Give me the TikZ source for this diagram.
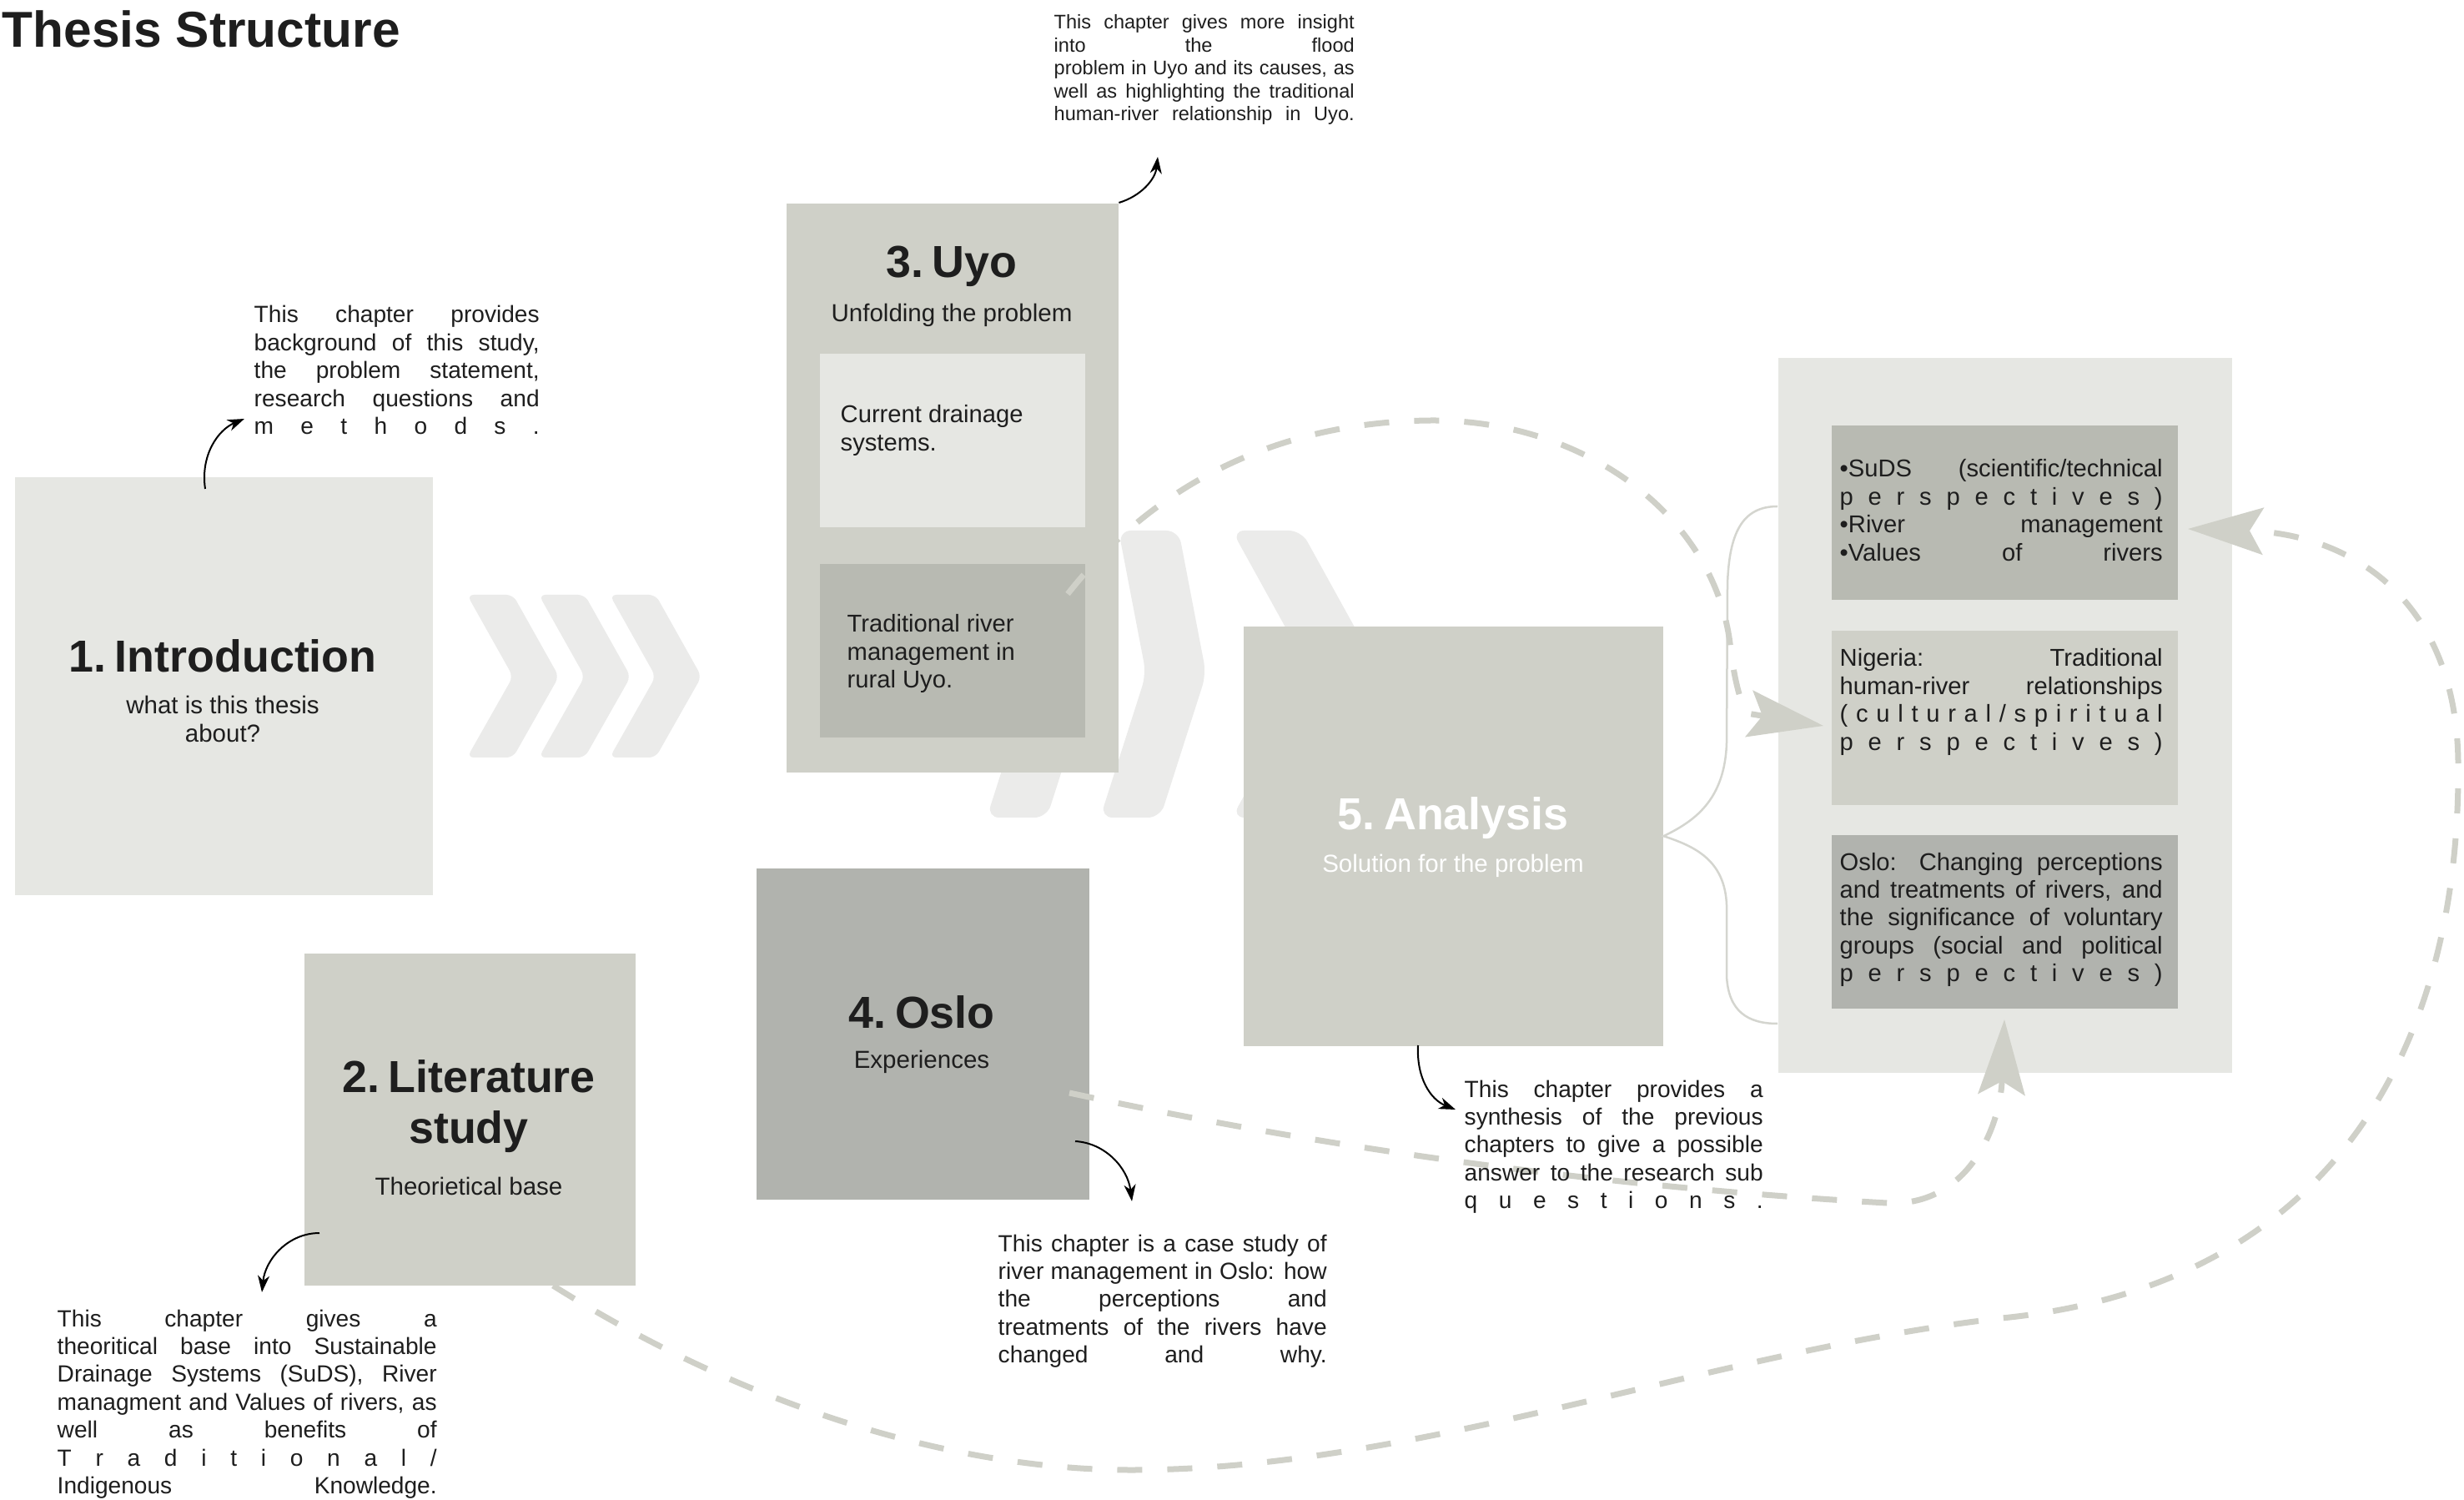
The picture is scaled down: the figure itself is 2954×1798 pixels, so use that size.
\documentclass[tikz,border=0pt]{standalone}
\usepackage{fontspec}
\setmainfont{Liberation Sans}
\usetikzlibrary{arrows.meta}
\definecolor{cLight}{HTML}{E6E7E3}
\definecolor{cMid}{HTML}{CFD0C8}
\definecolor{cDark}{HTML}{B8BAB2}
\definecolor{cDarker}{HTML}{B1B3AE}
\definecolor{cChev}{HTML}{EBEBEA}
\definecolor{cDash}{HTML}{CFD0C8}
\definecolor{cBrace}{HTML}{D4D5CF}
\definecolor{cInk}{HTML}{1E1E1E}
\newcommand{\jl}[1]{\makebox[\linewidth][s]{#1}}
\newcommand{\fsz}[2]{\fontsize{#1pt}{#2pt}\selectfont}
\newcommand{\tsp}{\hspace{0.2em}}
\begin{document}
\begin{tikzpicture}[x=0.1mm, y=-0.1mm,
  panelbox/.style={draw=none, inner sep=0, anchor=north west},
  ttl/.style={font=\fsz{15.3}{17.5}\bfseries, anchor=base, inner sep=0, text=cInk},
  sub/.style={font=\fsz{8.4}{9.4}, anchor=base, inner sep=0, text=cInk},
  inbox/.style={font=\fsz{8.3}{9.53}, anchor=base west, inner sep=0, text=cInk},
  desc/.style={font=\fsz{8}{9.53}, anchor=base west, inner sep=0, text=cInk},
  dashc/.style={draw=cDash, line width=0.7mm, dash pattern=on 3mm off 3mm},
  bigtip/.style={-{Stealth[length=9mm, width=5.6mm, inset=1.6mm]}},
  blackarrow/.style={draw=black, line width=0.2mm, -{Stealth[length=2mm, width=1.4mm, inset=0.6mm]}},
  chev/.style={fill=cChev, rounded corners=0.8mm},
  bigchev/.style={fill=cChev, rounded corners=1.5mm},
]
\useasboundingbox (0,0) rectangle (2954,1798);
\fill[white] (0,0) rectangle (2954,1798);

% title
\node[font=\fsz{17.2}{20}\bfseries, anchor=base west, inner sep=0, text=cInk] (title) at (2,57) {Thesis Structure};

% small chevrons
\foreach \x in {560,646,731}{
  \fill[chev] (\x,713) -- (\x+55,713) -- (\x+110,811) -- (\x+55,908) -- (\x,908) -- (\x+55,811) -- cycle;
}
% big chevrons
\foreach \x in {1205,1341}{
  \fill[bigchev] (\x,636) -- (\x+72,636) -- (\x+105,808) -- (\x+50,980) -- (\x-22,980) -- (\x+33,808) -- cycle;
}
\fill[bigchev] (1477,636) -- (1560,636) -- (1655,808) -- (1560,980) -- (1477,980) -- (1572,808) -- cycle;

% boxes
\node[panelbox, fill=cLight, minimum width=50.1mm, minimum height=50.1mm] (intro) at (17,571) {};
\node[panelbox, fill=cMid, minimum width=39.8mm, minimum height=68.2mm] (uyo) at (942,243) {};
\node[panelbox, fill=cLight, minimum width=31.8mm, minimum height=20.8mm] (uyoA) at (982,423) {};
\node[panelbox, fill=cDark, minimum width=31.8mm, minimum height=20.8mm] (uyoB) at (982,675) {};
\node[panelbox, fill=cMid, minimum width=39.7mm, minimum height=39.8mm] (lit) at (364,1142) {};
\node[panelbox, fill=cDarker, minimum width=39.9mm, minimum height=39.7mm] (oslo) at (906,1040) {};
\node[panelbox, fill=cMid, minimum width=50.3mm, minimum height=50.3mm] (ana) at (1490,750) {};
\node[panelbox, fill=cLight, minimum width=54.4mm, minimum height=85.7mm] (panel) at (2131,428) {};
\node[panelbox, fill=cDark, minimum width=41.5mm, minimum height=20.9mm] (suds) at (2195,509) {};
\node[panelbox, fill=cMid, minimum width=41.5mm, minimum height=20.9mm] (nig) at (2195,755) {};
\node[panelbox, fill=cDarker, minimum width=41.5mm, minimum height=20.8mm] (osin) at (2195,1000) {};

% brace from analysis to panel
\coordinate (braceTop) at (2131,607);
\coordinate (braceBot) at (2131,1227);
\draw[cBrace, line width=0.25mm] (braceTop) .. controls (2088,607) and (2073,640) .. (2071,700)
   -- (2070,890) .. controls (2068,960) and (2030,985) .. (ana.east)
   .. controls (2030,1014) and (2068,1030) .. (2070,1085) -- (2070,1170)
   .. controls (2072,1212) and (2095,1227) .. (braceBot);

% dashed connectors
\coordinate (p1s) at (1280,712);
\coordinate (p1e) at (2186,870);
\draw[dashc, bigtip] (p1s) .. controls (1400,560) and (1560,505) .. (1716,504)
   .. controls (1900,503) and (2060,620) .. (2075,780)
   .. controls (2080,820) and (2088,845) .. (2094,855) -- (p1e);
\coordinate (p2s) at (663,1541);
\coordinate (p2e) at (2623,634);
\draw[dashc, bigtip] (p2s) .. controls (900,1690) and (1150,1762) .. (1356,1762)
   .. controls (1700,1762) and (2050,1620) .. (2400,1580)
   .. controls (2800,1540) and (2950,1250) .. (2947,914)
   .. controls (2945,720) and (2820,640) .. (p2e);
\coordinate (p3s) at (1282,1310);
\coordinate (p3e) at (2403,1222);
\draw[dashc, bigtip] (p3s) .. controls (1700,1400) and (2050,1430) .. (2262,1442)
   .. controls (2360,1447) and (2398,1350) .. (p3e);

% box texts
\node[ttl] (t1) at (267,806) {1.\tsp Introduction};
\node[sub] (s1) at (267,856) {\parbox[t]{40mm}{\centering what is this thesis\\about?}};
\node[ttl] (t3) at (1141,333) {3.\tsp Uyo};
\node[sub] (s3) at (1141,386) {Unfolding the problem};
\node[inbox] (tA) at (1007,507) {\parbox[t]{30mm}{Current drainage\\systems.}};
\node[inbox] (tB) at (1015,758) {\parbox[t]{28mm}{Traditional river\\management in\\rural Uyo.}};
\node[ttl] (t2) at (562,1309) {\parbox[t]{38mm}{\centering 2.\tsp Literature\\study}};
\node[sub] (s2) at (562,1432) {Theorietical base};
\node[ttl] (t4) at (1105,1232) {4.\tsp Oslo};
\node[sub] (s4) at (1105,1280) {Experiences};
\node[ttl, text=white] (t5) at (1742,995) {5.\tsp Analysis};
\node[sub, text=white] (s5) at (1742,1045) {Solution for the problem};

\node[inbox] (tsuds) at (2205,572) {\parbox[t]{38.7mm}{\jl{•SuDS (scientific/technical}\\
  \jl{p e r s p e c t i v e s )}\\
  \jl{•River management}\\
  \jl{•Values of rivers}}};
\node[inbox] (tnig) at (2205,799) {\parbox[t]{38.7mm}{\jl{Nigeria: Traditional}\\
  \jl{human-river relationships}\\
  \jl{( c u l t u r a l / s p i r i t u a l}\\
  \jl{p e r s p e c t i v e s )}}};
\node[inbox] (tosin) at (2205,1043) {\parbox[t]{38.7mm}{\jl{Oslo: Changing perceptions}\\
  \jl{and treatments of rivers, and}\\
  \jl{the significance of voluntary}\\
  \jl{groups (social and political}\\
  \jl{p e r s p e c t i v e s )}}};

% descriptions
\node[desc] (d1) at (304,387) {\parbox[t]{34.2mm}{\jl{This chapter provides}\\
  \jl{background of this study,}\\
  \jl{the problem statement,}\\
  \jl{research questions and}\\
  \jl{m e t h o d s .}}};
\node[desc, font=\fsz{6.7}{7.82}] (d3) at (1263,35) {\parbox[t]{36mm}{\jl{This chapter gives more insight}\\
  \jl{into the flood}\\
  \jl{problem in Uyo and its causes, as}\\
  \jl{well as highlighting the traditional}\\
  \jl{human-river relationship in Uyo.}}};
\node[desc] (d2) at (68,1590) {\parbox[t]{45.5mm}{\jl{This chapter gives a}\\
  \jl{theoritical base into Sustainable}\\
  \jl{Drainage Systems (SuDS), River}\\
  \jl{managment and Values of rivers, as}\\
  \jl{well as benefits of}\\
  \jl{T r a d i t i o n a l /}\\
  \jl{Indigenous Knowledge.}}};
\node[desc] (d4) at (1196,1500) {\parbox[t]{39.4mm}{\jl{This chapter is a case study of}\\
  \jl{river management in Oslo: how}\\
  \jl{the perceptions and}\\
  \jl{treatments of the rivers have}\\
  \jl{changed and why.}}};
\node[desc] (d5) at (1755,1315) {\parbox[t]{35.8mm}{\jl{This chapter provides a}\\
  \jl{synthesis of the previous}\\
  \jl{chapters to give a possible}\\
  \jl{answer to the research sub}\\
  \jl{q u e s t i o n s .}}};

% small black arrows
\coordinate (a1s) at (246,586);  \coordinate (a1e) at (293,502);
\draw[blackarrow] (a1s) .. controls (240,545) and (262,515) .. (a1e);
\coordinate (a3e) at (1388,188);
\draw[blackarrow] (uyo.north east) .. controls (1368,235) and (1385,215) .. (a3e);
\coordinate (a2s) at (383,1478); \coordinate (a2e) at (314,1549);
\draw[blackarrow] (a2s) .. controls (345,1478) and (318,1510) .. (a2e);
\coordinate (a4s) at (1289,1368); \coordinate (a4e) at (1357,1440);
\draw[blackarrow] (a4s) .. controls (1325,1370) and (1352,1400) .. (a4e);
\coordinate (a5s) at (1700,1253); \coordinate (a5e) at (1745,1330);
\draw[blackarrow] (a5s) .. controls (1698,1292) and (1715,1318) .. (a5e);
\end{tikzpicture}
\end{document}
